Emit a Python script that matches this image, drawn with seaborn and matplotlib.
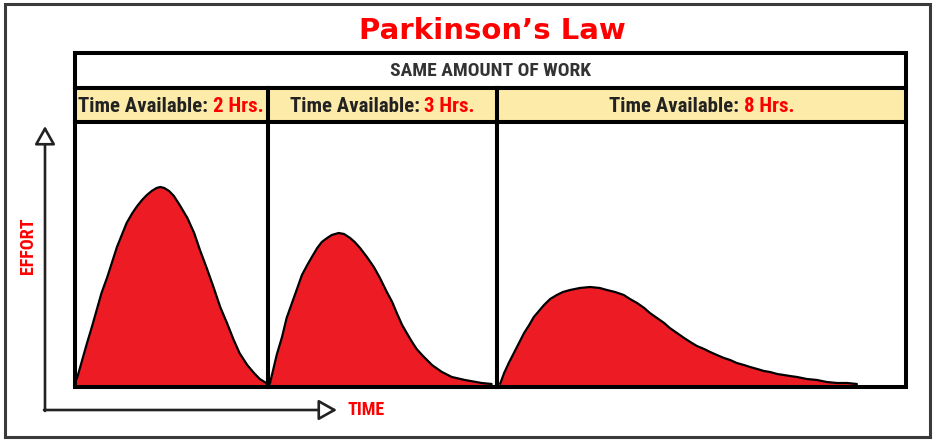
import numpy as np
import pandas as pd
import seaborn as sns
import matplotlib.pyplot as plt
from matplotlib.patches import Rectangle, FancyArrowPatch

# time available per panel (hours) and the effort curves
hours = [2, 3, 8]
panel_labels = ["Time Available: ", "Time Available: ", "Time Available: "]
hour_labels = ["2 Hrs.", "3 Hrs.", "8 Hrs."]

time_2h = [0.0, 0.03, 0.08, 0.13, 0.18, 0.23, 0.28, 0.34, 0.39, 0.44, 0.49,
           0.54, 0.60, 0.65, 0.70, 0.75, 0.80, 0.85, 0.89, 0.93, 0.98, 1.03,
           1.09, 1.17, 1.24, 1.30, 1.37, 1.44, 1.51, 1.58, 1.65, 1.71, 1.79,
           1.86, 1.92, 1.97, 2.0]
effort_2h = [0, 7, 24, 41, 57, 74, 91, 107, 122, 137, 149,
             161, 171, 178, 184, 189, 193, 196, 197, 196, 193, 188,
             179, 166, 151, 134, 116, 97, 77, 61, 44, 31, 19,
             11, 5, 2, 0]

time_3h = [0.03, 0.08, 0.12, 0.19, 0.25, 0.32, 0.39, 0.45, 0.52, 0.58, 0.65,
           0.71, 0.78, 0.84, 0.93, 1.00, 1.08, 1.14, 1.21, 1.30, 1.39, 1.47,
           1.56, 1.63, 1.69, 1.76, 1.82, 1.89, 1.95, 2.02, 2.15, 2.28, 2.41,
           2.58, 2.80, 2.93]
effort_3h = [0, 16, 29, 47, 66, 81, 96, 109, 119, 127, 136,
             142, 146, 149, 151, 150, 146, 142, 136, 127, 117, 106,
             92, 82, 71, 59, 51, 42, 35, 29, 19, 12, 7,
             4, 1, 0]

time_8h = [0.06, 0.14, 0.23, 0.33, 0.43, 0.53, 0.63, 0.72, 0.82, 0.92, 1.04,
           1.17, 1.29, 1.43, 1.62, 1.82, 2.01, 2.15, 2.31, 2.48, 2.60, 2.74,
           2.88, 2.99, 3.13, 3.27, 3.38, 3.52, 3.66, 3.78, 3.91, 4.05, 4.17,
           4.30, 4.44, 4.56, 4.69, 4.83, 4.95, 5.09, 5.22, 5.34, 5.48, 5.61,
           5.73, 5.87, 6.06, 6.26, 6.45, 6.65, 6.85, 7.04]
effort_8h = [0, 11, 21, 31, 41, 51, 59, 67, 73, 79, 85,
             89, 92, 94, 96, 97, 96, 94, 92, 89, 85, 81,
             76, 71, 66, 61, 56, 51, 46, 42, 38, 35, 32,
             29, 26, 24, 21, 19, 17, 15, 13, 12, 10, 9,
             8, 7, 5, 4, 2, 1, 1, 0]

curves = [(time_2h, effort_2h), (time_3h, effort_3h), (time_8h, effort_8h)]

sns.set_theme(style="white")
narrow = ["Roboto Condensed", "DejaVu Sans"]
plt.rcParams["font.family"] = narrow

W, H = 935, 442
fig = plt.figure(figsize=(W / 100, H / 100), dpi=100)
fig.patch.set_facecolor("white")

red = "#ED1C24"
border_lw = 2.9


def px_rect(x0, y0, x1, y1):
    return [x0 / W, 1 - y1 / H, (x1 - x0) / W, (y1 - y0) / H]


def cell(x0, y0, x1, y1, color="white"):
    ax = fig.add_axes(px_rect(x0, y0, x1, y1))
    ax.set_facecolor(color)
    ax.set_xticks([])
    ax.set_yticks([])
    for s in ax.spines.values():
        s.set_visible(True)
        s.set_color("black")
        s.set_linewidth(border_lw)
    return ax


# outer frame
fig.patches.append(Rectangle((5 / W, 1 - 437 / H), 925 / W, 433 / H,
                             transform=fig.transFigure, fill=False,
                             ec="#3a3a3a", lw=2.2))

fig.text(492 / W, 1 - 31 / H, "Parkinson\u2019s Law", color="#FF0000",
         fontsize=21, fontweight="bold", family=["DejaVu Sans"],
         ha="center", va="center")

splits = [74.5, 267.5, 497, 906]

header = cell(splits[0], 53, splits[-1], 87.5)
header.text(0.5, 0.48, "SAME AMOUNT OF WORK", transform=header.transAxes,
            ha="center", va="center", fontsize=14, fontweight="bold",
            color="#333333")

label_pairs = []
for i in range(3):
    ax = cell(splits[i], 87.5, splits[i + 1], 121.5, color="#FCEBA9")
    t1 = ax.text(0.5, 0.45, panel_labels[i], transform=ax.transAxes,
                 ha="left", va="center", fontsize=15, fontweight="bold",
                 color="#222222")
    t2 = ax.annotate(hour_labels[i], xy=(1, 0), xycoords=t1, va="bottom",
                     fontsize=15, fontweight="bold", color="#FF0000")
    label_pairs.append((ax, t1, t2))

for i, (t, e) in enumerate(curves):
    ax = cell(splits[i], 121.5, splits[i + 1], 387)
    df = pd.DataFrame({"time": t, "effort": e})
    ax.fill_between(df["time"], df["effort"], -5, color=red, lw=0)
    sns.lineplot(data=df, x="time", y="effort", ax=ax, color="black", lw=1.6)
    ax.set_xlim(0, hours[i])
    ax.set_ylim(-3, 262.5)
    ax.set_xlabel("")
    ax.set_ylabel("")
    ax.set_xticks([])
    ax.set_yticks([])

# centre the two-colour labels in each yellow cell
fig.canvas.draw()
r = fig.canvas.get_renderer()
for ax, t1, t2 in label_pairs:
    w1 = t1.get_window_extent(r).width
    w2 = t2.get_window_extent(r).width
    axw = ax.get_window_extent(r).width
    t1.set_x(0.5 - (w1 + w2) / 2 / axw)

# effort / time axes
arrow_kw = dict(arrowstyle="-|>,head_length=0.8,head_width=0.45", mutation_scale=14,
                lw=1.9, ec="#222222", fc="white", shrinkA=0, shrinkB=0,
                transform=fig.transFigure)
fig.patches.append(FancyArrowPatch((45 / W, 1 - 411 / H), (45 / W, 1 - 126 / H), **arrow_kw))
fig.patches.append(FancyArrowPatch((44 / W, 1 - 410 / H), (337 / W, 1 - 410 / H), **arrow_kw))

fig.text(28 / W, 1 - 246 / H, "EFFORT", color="#FF0000", fontsize=13, fontweight="bold",
         rotation=90, ha="center", va="center")
fig.text(347 / W, 1 - 410 / H, "TIME", color="#FF0000", fontsize=13, fontweight="bold",
         ha="left", va="center")

fig.savefig("out.png", dpi=100)
